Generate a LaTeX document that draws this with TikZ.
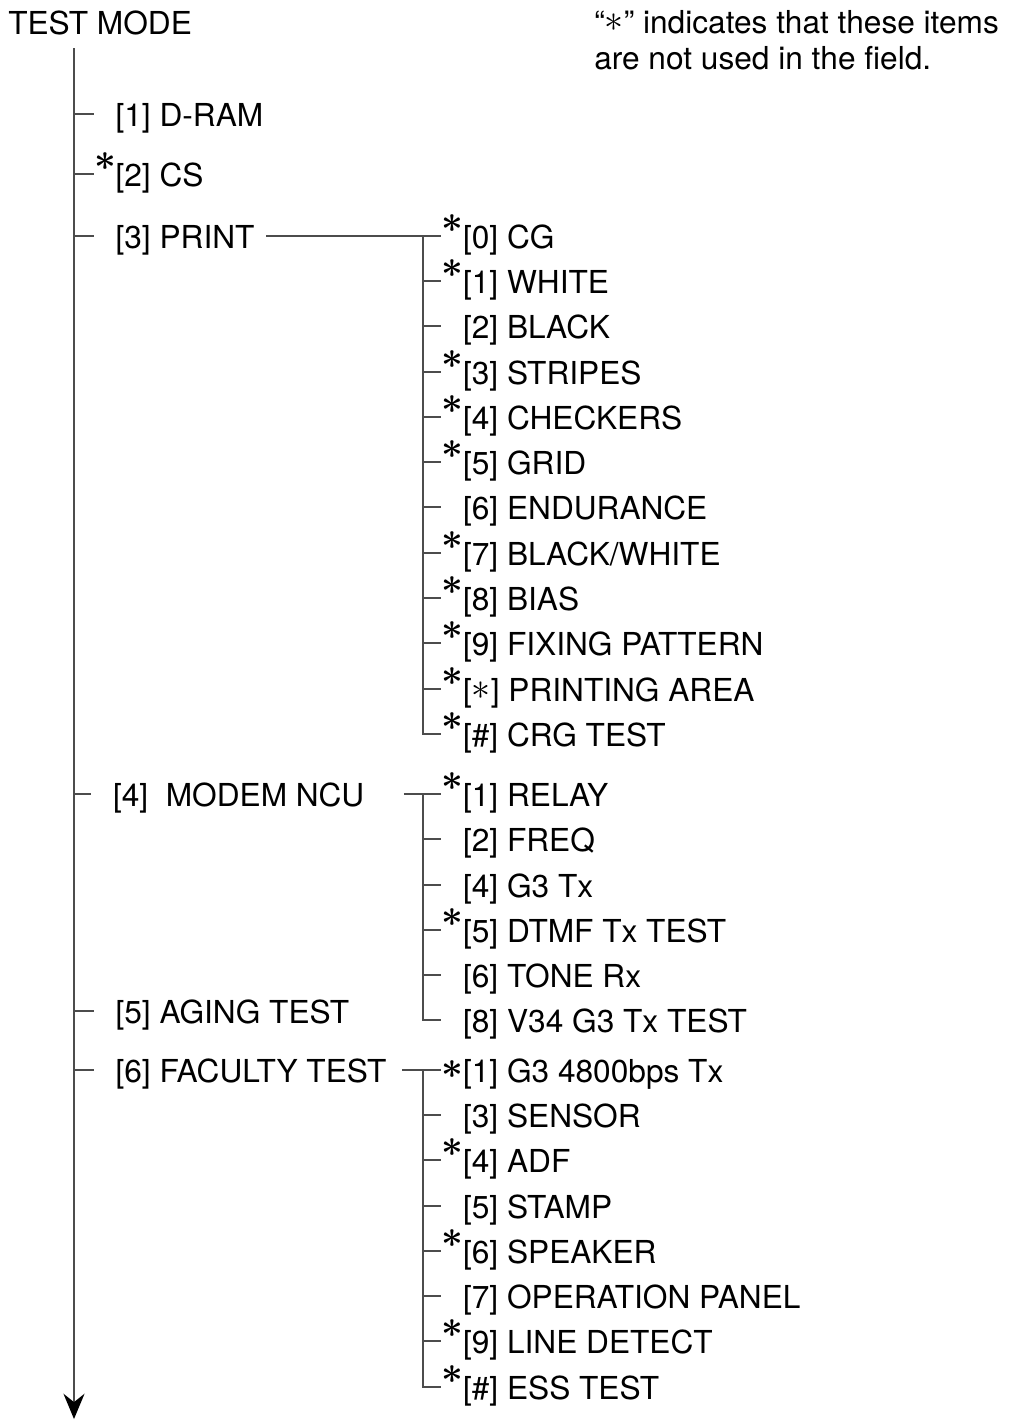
\documentclass[tikz,border=0pt]{standalone}
\usepackage{fontspec}
\setmainfont{TeX Gyre Heros}
\usetikzlibrary{arrows.meta}
% slot in front of each label: raised star, centred star or nothing
\newcommand{\unused}{\makebox[15.5pt][l]{\hspace{0.3pt}\raisebox{11.5pt}{\scalebox{1.3}{\boldmath$\ast$}}}}
\newcommand{\midstar}{\makebox[15.5pt][l]{\hspace{0.3pt}\raisebox{3pt}{\scalebox{1.3}{\boldmath$\ast$}}}}
\newcommand{\noslot}{\makebox[15.5pt][l]{}}
\newcommand{\inbrack}{\raisebox{1.2pt}{\scalebox{1.3}{$\ast$}}}
\tikzset{
  branch/.style={draw=black!70, line width=0.9pt},
  item/.style={anchor=west, inner xsep=0pt, inner ysep=0pt,
    text height=26pt, text depth=8.2pt, font=\fontsize{22.5}{27}\selectfont},
}
\begin{document}
\begin{tikzpicture}[x=0.025cm, y=-0.025cm]
  \useasboundingbox (0,0) rectangle (1009,1421);
  \node[anchor=base west, inner sep=0pt, font=\fontsize{22.5}{27}\selectfont] (title) at (8,34) {TEST MODE};
  \node[anchor=north west, inner sep=0pt, align=left, font=\fontsize{22.5}{25.6}\selectfont] (note) at (594,10)
    {``\inbrack'' indicates that these items\\are not used in the field.};

  % main spine
  \coordinate (top) at (74,48);
  \coordinate (bottom) at (74,1419);
  \draw[branch, -{Stealth[length=18pt, width=15pt, inset=6pt, black]}] (top) -- (bottom);
  \foreach \n/\m/\t/\x/\y in {dram/\noslot/{[1] D-RAM}/93.5/114, cs/\unused/{[2] CS}/93.5/174,
      print/\noslot/{[3] PRINT}/93.5/236, modem/\noslot/{[4]\ \ MODEM NCU}/91/794,
      aging/\noslot/{[5] AGING TEST}/93.5/1011, faculty/\noslot/{[6] FACULTY TEST}/93.5/1070}
    \node[item] (\n) at (\x,\y) {\m\t};
  \foreach \n in {dram,cs,print,modem,aging,faculty}
    \draw[branch] (\n.west -| top) -- (\n.west);

  % sub items
  \coordinate (psub) at (423,0);
  \foreach \n/\m/\t/\y in {cg/\unused/{[0] CG}/236, white/\unused/{[1] WHITE}/281,
      black/\noslot/{[2] BLACK}/326, stripes/\unused/{[3] STRIPES}/372,
      checkers/\unused/{[4] CHECKERS}/417, grid/\unused/{[5] GRID}/462,
      endur/\noslot/{[6] ENDURANCE}/507, bw/\unused/{[7] BLACK/WHITE}/553,
      bias/\unused/{[8] BIAS}/598, fixing/\unused/{[9] FIXING PATTERN}/643,
      area/\unused/{[\inbrack] PRINTING AREA}/689, crg/\unused/{[\#] CRG TEST}/734,
      relay/\unused/{[1] RELAY}/794, freq/\noslot/{[2] FREQ}/839,
      gtx/\noslot/{[4] G3 Tx}/885, dtmf/\unused/{[5] DTMF Tx TEST}/930,
      tone/\noslot/{[6] TONE Rx}/975, vtx/\noslot/{[8] V34 G3 Tx TEST}/1020,
      gbps/\midstar/{[1] G3 4800bps Tx}/1070, sensor/\noslot/{[3] SENSOR}/1115,
      adf/\unused/{[4] ADF}/1160, stamp/\noslot/{[5] STAMP}/1206,
      speaker/\unused/{[6] SPEAKER}/1251, panel/\noslot/{[7] OPERATION PANEL}/1296,
      line/\unused/{[9] LINE DETECT}/1341, ess/\unused/{[\#] ESS TEST}/1387}
    \node[item] (\n) at (441,\y) {\m\t};

  % branches
  \draw[branch, shorten <=8pt] (print.east) -- (cg.west);
  \draw[branch, shorten <=28pt] (modem.east) -- (relay.west);
  \draw[branch, shorten <=11pt] (faculty.east) -- (gbps.west);
  \draw[branch] (cg.west -| psub) -- (crg.west -| psub) -- (crg.west);
  \draw[branch] (relay.west -| psub) -- (vtx.west -| psub) -- (vtx.west);
  \draw[branch] (gbps.west -| psub) -- (ess.west -| psub) -- (ess.west);
  \foreach \n in {white,black,stripes,checkers,grid,endur,bw,bias,fixing,area,
      freq,gtx,dtmf,tone,sensor,adf,stamp,speaker,panel,line}
    \draw[branch] (\n.west -| psub) -- (\n.west);
\end{tikzpicture}
\end{document}
